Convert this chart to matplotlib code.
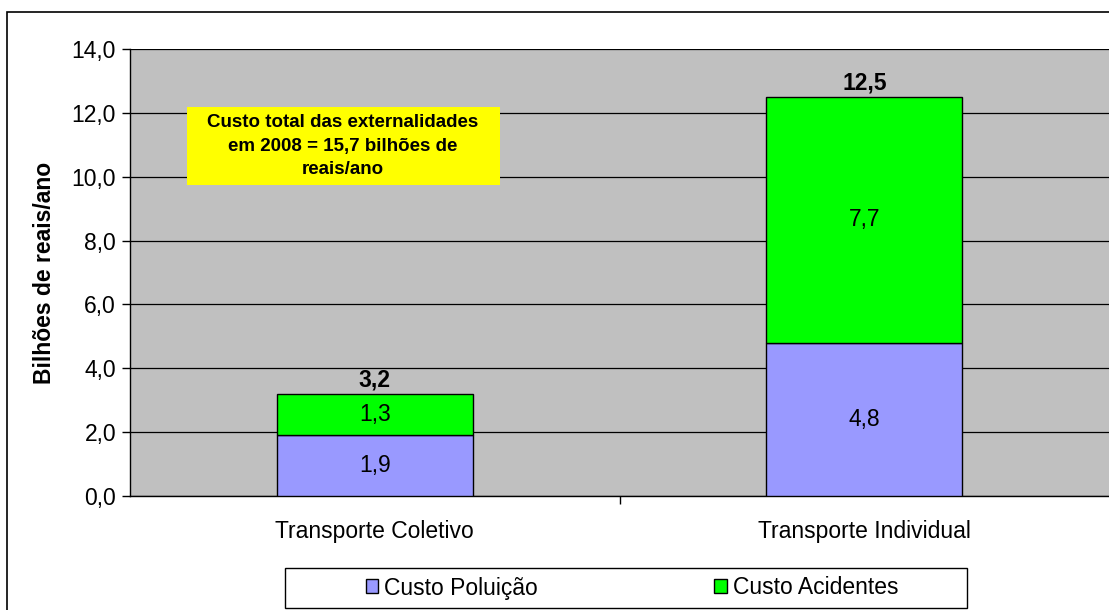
import matplotlib.pyplot as plt
import matplotlib.patches as mpatches
import numpy as np

plt.rcParams['font.family'] = ['Liberation Sans', 'DejaVu Sans']

categories = ["Transporte Coletivo", "Transporte Individual"]
poluicao = [1.9, 4.8]
acidentes = [1.3, 7.7]
totais = [3.2, 12.5]
series_names = ["Custo Poluição", "Custo Acidentes"]
yticks = [0, 2, 4, 6, 8, 10, 12, 14]
note = "Custo total das externalidades\nem 2008 = 15,7 bilhões de\nreais/ano"

def br(v):
    return f"{v:.1f}".replace(".", ",")

fs = 16.5
fig = plt.figure(figsize=(11.09, 6.10), dpi=100)
ax = fig.add_axes([130/1109, 1 - 496/610, 979/1109, (496 - 49)/610])
ax.set_facecolor('#C0C0C0')

x = np.arange(len(categories))
width = 0.4
b1 = ax.bar(x, poluicao, width, color='#9999FF', edgecolor='black', linewidth=1,
            label=series_names[0], zorder=3)
b2 = ax.bar(x, acidentes, width, bottom=poluicao, color='#00FF00', edgecolor='black',
            linewidth=1, label=series_names[1], zorder=3)

for i in range(len(categories)):
    ax.text(x[i], poluicao[i] / 2, br(poluicao[i]), ha='center', va='center', fontsize=fs, zorder=4)
    ax.text(x[i], poluicao[i] + acidentes[i] / 2, br(acidentes[i]), ha='center', va='center',
            fontsize=fs, zorder=4)
    ax.annotate(br(totais[i]), xy=(x[i], totais[i]), xytext=(0, 2), textcoords='offset points',
                ha='center', va='bottom', fontsize=fs, fontweight='bold', zorder=4)

ax.set_xlim(-0.5, 1.5)
ax.set_ylim(0, 14)
ax.set_yticks(yticks)
ax.set_yticklabels([br(v) for v in yticks], fontsize=fs)
ax.yaxis.grid(True, color='black', linewidth=0.9, zorder=1)
ax.set_axisbelow(True)
ax.set_xticks(x)
ax.set_xticklabels(categories, fontsize=fs)
ax.set_xticks([0.5], minor=True)
ax.tick_params(axis='x', which='major', length=0, pad=17)
ax.tick_params(axis='x', which='minor', length=6, direction='out', width=1)
ax.tick_params(axis='y', length=6, direction='out', width=1, pad=4)
ax.set_ylabel('Bilhões de reais/ano', fontsize=16.5, fontweight='bold', labelpad=11)

for spine in ['top', 'right']:
    ax.spines[spine].set_visible(False)
for spine in ['left', 'bottom']:
    ax.spines[spine].set_linewidth(1)

# yellow note box
box = mpatches.Rectangle((-0.3837, 9.74), 0.6388, 2.44, facecolor='#FFFF00', edgecolor='none',
                         zorder=5)
ax.add_patch(box)
ax.text(-0.0653, 10.96, note, ha='center', va='center', fontsize=13.5, fontweight='bold',
        linespacing=1.5, zorder=6)

leg = fig.legend(handles=[b1, b2], loc='center', bbox_to_anchor=(632/1109, 1 - 588/610),
                 ncol=2, fontsize=fs, frameon=False,
                 handlelength=0.55, handleheight=0.55, handletextpad=0.25, columnspacing=7.7)
frame = mpatches.Rectangle((285/1109, 1 - 608/610), 682/1109, 40/610, transform=fig.transFigure,
                           fill=False, edgecolor='black', linewidth=1)
fig.patches.append(frame)

border = mpatches.Rectangle((7/1109, -0.1), 1.2, 1.1 - 12/610, transform=fig.transFigure,
                            fill=False, edgecolor='black', linewidth=1.2)
fig.patches.append(border)

fig.savefig('out.png', dpi=100)
